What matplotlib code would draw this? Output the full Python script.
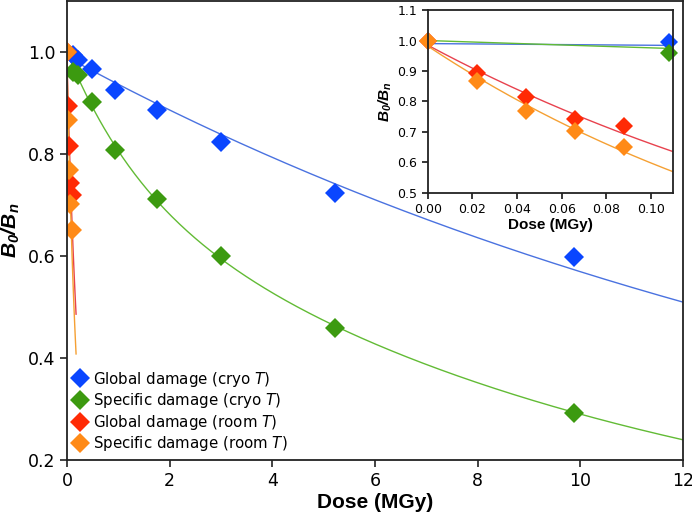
import numpy as np
import matplotlib
matplotlib.use("Agg")
import matplotlib.pyplot as plt

plt.rcParams['font.family'] = ['DejaVu Sans']
plt.rcParams['mathtext.fontset'] = 'custom'
plt.rcParams['mathtext.bf'] = 'Liberation Sans:italic:bold'
plt.rcParams['mathtext.it'] = 'DejaVu Sans:italic'
plt.rcParams['mathtext.rm'] = 'DejaVu Sans'

# ---- data ----
cryo_dose = [0.108, 0.22, 0.48, 0.935, 1.75, 3.0, 5.22, 9.88]
cryo_global = [0.995, 0.984, 0.967, 0.925, 0.886, 0.824, 0.723, 0.599]
cryo_specific = [0.960, 0.955, 0.903, 0.807, 0.711, 0.600, 0.459, 0.293]

room_dose = [0.0, 0.022, 0.044, 0.066, 0.088]
room_global = [1.0, 0.895, 0.815, 0.744, 0.719]
room_specific = [1.0, 0.867, 0.769, 0.703, 0.651]

# fit parameters of the model curves
fit_global_cryo = (0.99, 0.0553)                 # A*exp(-k*D)
fit_specific_cryo = (0.25, 0.70, 0.75, 0.095)    # A*exp(-a*D)+B*exp(-b*D)
fit_global_room = (0.985, 3.99)
fit_specific_room = (0.982, 4.96)
room_fit_max = 0.177

labels = ["Global damage (cryo $T$)", "Specific damage (cryo $T$)",
          "Global damage (room $T$)", "Specific damage (room $T$)"]

c_blue, c_green, c_red, c_orange = "#0a46ff", "#3c9a10", "#ff2a05", "#ff8a17"
l_blue, l_green, l_red, l_orange = "#4a72e0", "#62bb35", "#e8424e", "#f5a033"


def single_exp(d, p):
    return p[0] * np.exp(-p[1] * d)


def double_exp(d, p):
    return p[0] * np.exp(-p[1] * d) + p[2] * np.exp(-p[3] * d)


fig = plt.figure(figsize=(6.92, 5.17), dpi=100)
ax = fig.add_axes([0.0968, 0.110, 0.890, 0.888])

d_cryo = np.linspace(0, 12, 400)
d_room = np.linspace(0, room_fit_max, 100)

ms = 10.5
ax.plot(d_cryo, single_exp(d_cryo, fit_global_cryo), color=l_blue, lw=1.0)
ax.plot(d_cryo, double_exp(d_cryo, fit_specific_cryo), color=l_green, lw=1.0)
ax.plot(d_room, single_exp(d_room, fit_global_room), color=l_red, lw=1.0)
ax.plot(d_room, single_exp(d_room, fit_specific_room), color=l_orange, lw=1.0)

ax.plot(cryo_dose, cryo_global, 'D', color=c_blue, ms=ms, mew=0, label=labels[0])
ax.plot(cryo_dose, cryo_specific, 'D', color=c_green, ms=ms, mew=0, label=labels[1])
ax.plot(room_dose, room_global, 'D', color=c_red, ms=ms, mew=0, label=labels[2])
ax.plot(room_dose, room_specific, 'D', color=c_orange, ms=ms, mew=0, label=labels[3])

ax.set_xlim(0, 12)
ax.set_ylim(0.2, 1.1)
ax.set_xticks([0, 2, 4, 6, 8, 10, 12])
ax.set_yticks([0.2, 0.4, 0.6, 0.8, 1.0])
ax.set_yticklabels(["0.2", "0.4", "0.6", "0.8", "1.0"])
ax.tick_params(labelsize=12.5, direction='out', length=5, width=1.2, color='#222222')
for s in ax.spines.values():
    s.set_linewidth(1.3)
    s.set_color('#222222')
ax.set_xlabel("Dose (MGy)", fontsize=15, fontweight='bold', family='Liberation Sans', labelpad=2)
ax.set_ylabel(r"$\mathbf{B_0/B_n}$", fontsize=15, labelpad=4)

leg = ax.legend(loc='lower left', bbox_to_anchor=(0.0, 0.005), frameon=False,
                fontsize=10.8, handlelength=1.13, handletextpad=0.3,
                borderaxespad=0.1, borderpad=0.2, labelspacing=0.17, numpoints=1)

# ---- inset ----
ms_in = 9
ins = fig.add_axes([0.618, 0.627, 0.355, 0.3535])
d_in = np.linspace(0, 0.11, 200)
ins.plot(d_in, single_exp(d_in, fit_global_cryo), color=l_blue, lw=1.0)
ins.plot(d_in, double_exp(d_in, fit_specific_cryo), color=l_green, lw=1.0)
ins.plot(d_in, single_exp(d_in, fit_global_room), color=l_red, lw=1.0)
ins.plot(d_in, single_exp(d_in, fit_specific_room), color=l_orange, lw=1.0)
ins.plot(cryo_dose, cryo_global, 'D', color=c_blue, ms=ms_in, mew=0, clip_on=False)
ins.plot(cryo_dose, cryo_specific, 'D', color=c_green, ms=ms_in, mew=0, clip_on=False)
ins.plot(room_dose, room_global, 'D', color=c_red, ms=ms_in, mew=0, clip_on=False)
ins.plot(room_dose, room_specific, 'D', color=c_orange, ms=ms_in, mew=0, clip_on=False)
ins.set_xlim(0, 0.11)
ins.set_ylim(0.5, 1.1)
ins.set_xticks([0.0, 0.02, 0.04, 0.06, 0.08, 0.10])
ins.set_xticklabels(["0.00", "0.02", "0.04", "0.06", "0.08", "0.10"])
ins.set_yticks([0.5, 0.6, 0.7, 0.8, 0.9, 1.0, 1.1])
ins.set_yticklabels(["0.5", "0.6", "0.7", "0.8", "0.9", "1.0", "1.1"])
ins.tick_params(labelsize=9, direction='out', length=4, width=1.1)
for s in ins.spines.values():
    s.set_linewidth(1.3)
    s.set_color('#222222')
ins.set_xlabel("Dose (MGy)", fontsize=11, fontweight='bold', family='Liberation Sans', labelpad=1)
ins.set_ylabel(r"$\mathbf{B_0/B_n}$", fontsize=11, labelpad=2)

fig.savefig("out.png", dpi=100)
